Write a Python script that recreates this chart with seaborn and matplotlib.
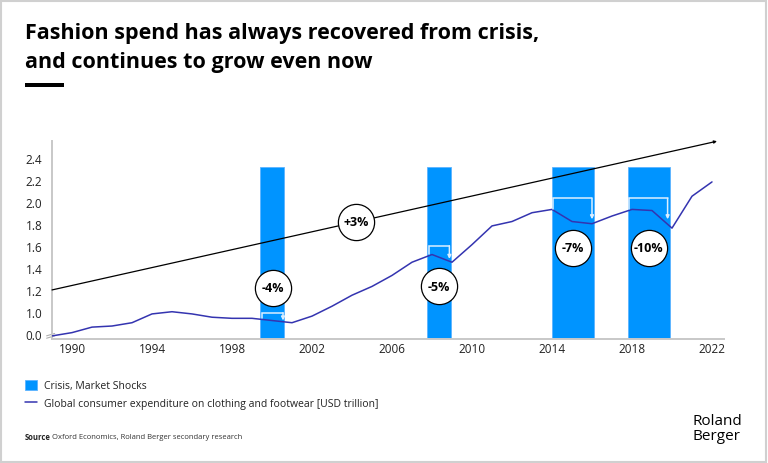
import numpy as np
import matplotlib
matplotlib.use("Agg")
import matplotlib.pyplot as plt
import seaborn as sns
from matplotlib.patches import Rectangle

# data
years = list(range(1989, 2023))
spend = [0.78, 0.81, 0.86, 0.87, 0.90, 0.98, 1.00, 0.98, 0.95, 0.94,
         0.94, 0.92, 0.90, 0.96, 1.05, 1.15, 1.23, 1.33, 1.45, 1.52,
         1.45, 1.61, 1.78, 1.82, 1.90, 1.93, 1.82, 1.80, 1.87, 1.93,
         1.92, 1.76, 2.05, 2.18]

crisis_start = [1999.4, 2007.75, 2014.0, 2017.8]
crisis_end = [2000.6, 2008.95, 2016.1, 2019.9]
crisis_top = 2.32

# drop brackets: left x, right x, top, start value, end value
drop_left = [1999.5, 2007.83, 2014.05, 2017.83]
drop_right = [2000.55, 2008.87, 2016.0, 2019.78]
drop_top = [0.99, 1.60, 2.03, 2.03]
drop_from = [0.94, 1.525, 1.93, 1.93]
drop_to = [0.92, 1.48, 1.84, 1.84]

drop_labels = ["-4%", "-5%", "-7%", "-10%"]
drop_label_x = [2000.03, 2008.35, 2015.05, 2018.83]
drop_label_y = [1.22, 1.23, 1.58, 1.58]

trend_x = [1989.0, 2022.25]
trend_y = [1.198, 2.55]
trend_label = "+3%"
trend_label_pos = (2004.2, 1.82)

xtick_years = [1990, 1994, 1998, 2002, 2006, 2010, 2014, 2018, 2022]
ytick_vals = [0.8, 1.0, 1.2, 1.4, 1.6, 1.8, 2.0, 2.2, 2.4]
ytick_labels = ["0.0", "1.0", "1.2", "1.4", "1.6", "1.8", "2.0", "2.2", "2.4"]

BLUE = "#0094ff"
LINE = "#3434b0"
W, H = 768, 464

sns.set_theme(style="white")
plt.rcParams["font.family"] = ["Open Sans", "DejaVu Sans"]

fig = plt.figure(figsize=(W / 100, H / 100), dpi=100)
fig.patch.set_facecolor("white")
ax = fig.add_axes([52 / W, 1 - 340 / H, (724 - 52) / W, (340 - 142) / H])

y0, y1 = 0.752, 2.552
ax.set_xlim(1989.0, 2022.6)
ax.set_ylim(y0, y1)

# crisis bars
centers = [(s + e) / 2 for s, e in zip(crisis_start, crisis_end)]
widths = [e - s for s, e in zip(crisis_start, crisis_end)]
ax.bar(centers, [crisis_top - y0] * len(centers), width=widths, bottom=y0,
       color=BLUE, edgecolor="#5cb3ff", linewidth=0.6, zorder=1,
       label="Crisis, Market Shocks")

# trend arrow
ax.annotate("", xy=(trend_x[1], trend_y[1]), xytext=(trend_x[0], trend_y[0]),
            arrowprops=dict(arrowstyle="-|>", color="black", lw=0.9,
                            mutation_scale=4, shrinkA=0, shrinkB=0),
            annotation_clip=False, zorder=3)

# main series
sns.lineplot(x=years, y=spend, ax=ax, color=LINE, linewidth=1.1, zorder=4,
             label="Global consumer expenditure on clothing and footwear [USD trillion]")

# drop brackets
for l, r, t, a, b in zip(drop_left, drop_right, drop_top, drop_from, drop_to):
    ax.plot([l, l, r], [a, t, t], color="#dcefff", lw=1.1, zorder=5,
            solid_joinstyle="miter")
    ax.annotate("", xy=(r, b), xytext=(r, t),
                arrowprops=dict(arrowstyle="-|>", color="#dcefff", lw=1.1,
                                mutation_scale=5, shrinkA=0, shrinkB=0),
                zorder=5)

# circle labels
circ_x = drop_label_x + [trend_label_pos[0]]
circ_y = drop_label_y + [trend_label_pos[1]]
circ_t = drop_labels + [trend_label]
ax.scatter(circ_x, circ_y, s=680, facecolor="white", edgecolor="black",
           linewidth=0.9, zorder=6, clip_on=False)
for cx, cy, t in zip(circ_x, circ_y, circ_t):
    ax.text(cx, cy, t, ha="center", va="center", fontsize=9,
            fontweight="bold", color="black", zorder=7)

# axes styling
for s in ["top", "right"]:
    ax.spines[s].set_visible(False)
for s in ["left", "bottom"]:
    ax.spines[s].set_color("#c8c8c8")
    ax.spines[s].set_linewidth(1.4)
ax.set_xticks(xtick_years)
ax.set_yticks(ytick_vals)
ax.set_yticklabels(ytick_labels)
ax.tick_params(axis="both", length=0, labelsize=8.5, colors="#222222")
ax.tick_params(axis="y", pad=7)
ax.tick_params(axis="x", pad=2)
ax.set_xlabel("")
ax.set_ylabel("")
ax.grid(False)

# axis break marks
for dy in (0.0, 0.012):
    ax.plot([-0.008, 0.004], [0.004 + dy, 0.016 + dy], transform=ax.transAxes,
            color="#b0b0b0", lw=0.8, clip_on=False)

# legend
handles, labels = ax.get_legend_handles_labels()
if ax.legend_:
    ax.legend_.remove()
order = [labels.index("Crisis, Market Shocks"),
         1 - labels.index("Crisis, Market Shocks")]
fig.legend([handles[i] for i in order], [labels[i] for i in order],
           loc="upper left", bbox_to_anchor=(24.5 / W, 1 - 380.5 / H),
           frameon=False, fontsize=7.5, borderpad=0, borderaxespad=0,
           handlelength=1.2, handleheight=1.2, handletextpad=0.65,
           labelspacing=0.6, labelcolor="#222222")

# title
fig.text(25 / W, 1 - 39 / H, "Fashion spend has always recovered from crisis,",
         fontsize=15.5, fontweight="bold", color="black", va="baseline")
fig.text(25 / W, 1 - 68 / H, "and continues to grow even now",
         fontsize=15.5, fontweight="bold", color="black", va="baseline")
fig.add_artist(Rectangle((25 / W, 1 - 88 / H), 39 / W, 4 / H,
                         transform=fig.transFigure, color="black", lw=0))

# source line
src = fig.text(24.5 / W, 1 - 437.5 / H, "Source", fontsize=5.5,
               fontweight="bold", color="#222222", va="center")
fig.canvas.draw()
bb = src.get_window_extent()
fig.text(bb.x1 / W + 2 / W, 1 - 437.5 / H,
         "Oxford Economics, Roland Berger secondary research",
         fontsize=5.5, color="#333333", va="center")

# logo text
fig.text(692 / W, 1 - 425.5 / H, "Roland", fontsize=11, fontweight="medium",
         color="black", va="baseline")
fig.text(692 / W, 1 - 440.5 / H, "Berger", fontsize=11, fontweight="medium",
         color="black", va="baseline")

# frame
fig.add_artist(Rectangle((1 / W, 1 / H), (W - 3) / W, (H - 3) / H,
                         transform=fig.transFigure, fill=False,
                         edgecolor="#d0d0d0", lw=1.5))

fig.savefig("out.png", dpi=100, facecolor="white")
